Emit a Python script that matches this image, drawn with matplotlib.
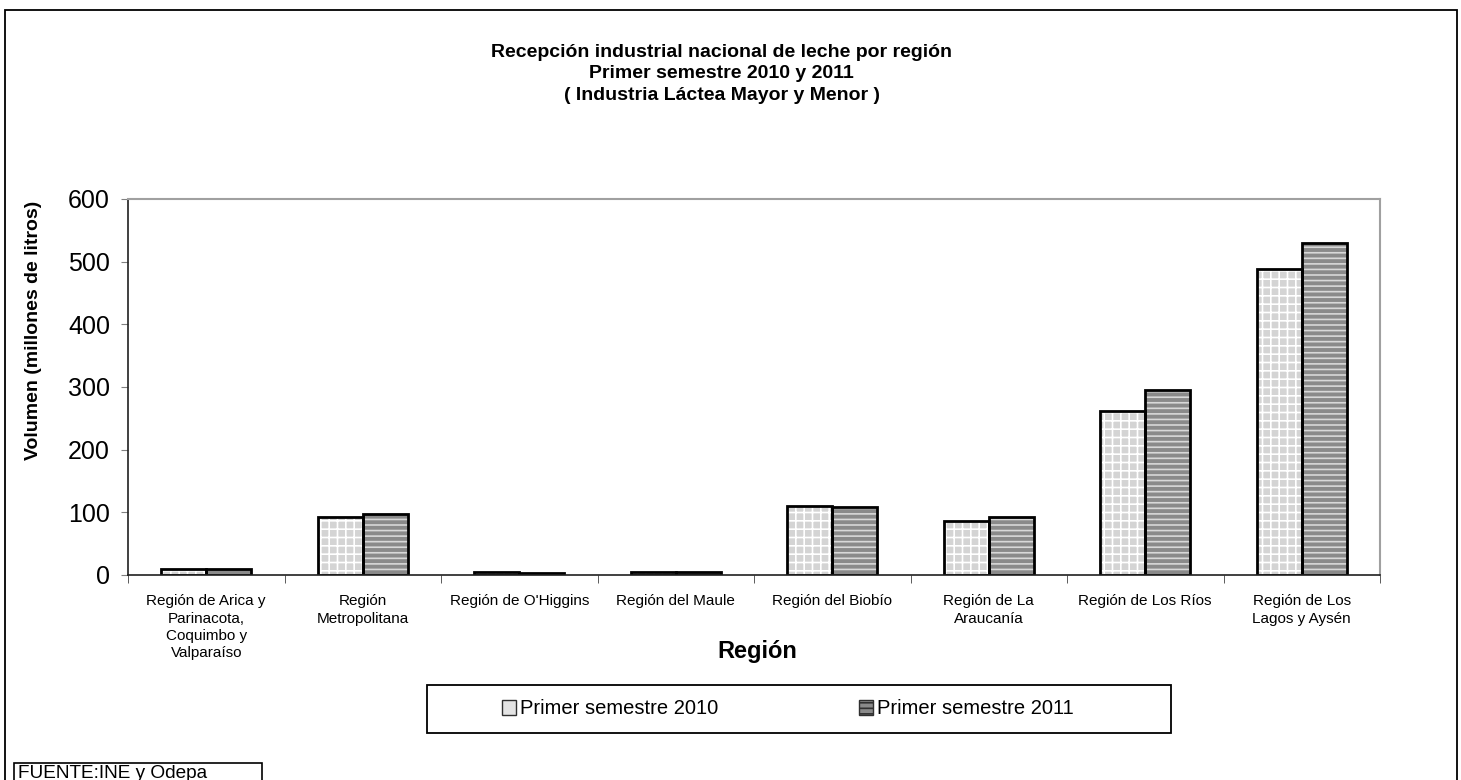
import numpy as np
import matplotlib
matplotlib.use("Agg")
import matplotlib.pyplot as plt
from matplotlib.patches import Rectangle, Patch

plt.rcParams['font.family'] = ['Liberation Sans', 'DejaVu Sans']

# datos (millones de litros)
regiones = ['Región de Arica y\nParinacota,\nCoquimbo y\nValparaíso',
            'Región\nMetropolitana',
            "Región de O'Higgins",
            'Región del Maule',
            'Región del Biobío',
            'Región de La\nAraucanía',
            'Región de Los Ríos',
            'Región de Los\nLagos y Aysén']
sem_2010 = [9, 92, 5, 4, 110, 86, 261, 488]
sem_2011 = [10, 98, 3, 5, 108, 92, 295, 530]
series = ['Primer semestre 2010', 'Primer semestre 2011']
yticks = [0, 100, 200, 300, 400, 500, 600]

W, H = 1461, 780
fig = plt.figure(figsize=(W / 100, H / 100), dpi=100)
ax = fig.add_axes([128 / W, 1 - 575 / H, 1252 / W, 376 / H])

x = np.arange(len(regiones))
w = 0.2875

plt.rcParams['hatch.linewidth'] = 1.2
# relleno con trama
ax.bar(x - w / 2, sem_2010, w, color='#d4d4d4', hatch='++', edgecolor='white', linewidth=0)
ax.bar(x + w / 2, sem_2011, w, color='#8a8a8a', hatch='---', edgecolor='#d8d8d8', linewidth=0)
# bordes negros
ax.bar(x - w / 2, sem_2010, w, fill=False, edgecolor='black', linewidth=2)
ax.bar(x + w / 2, sem_2011, w, fill=False, edgecolor='black', linewidth=2)

ax.set_xlim(-0.5, len(regiones) - 0.5)
ax.set_ylim(0, 600)
ax.set_yticks(yticks)
ax.tick_params(axis='y', labelsize=18, length=5, color='#808080', direction='out', pad=8)
ax.set_xticks(x)
ax.set_xticklabels(regiones, fontsize=11, va='top', linespacing=1.3)
ax.tick_params(axis='x', length=0, pad=14)
ax.set_xticks(np.arange(len(regiones) + 1) - 0.5, minor=True)
ax.tick_params(axis='x', which='minor', length=6, color='#404040', direction='out')

for s in ['top', 'right']:
    ax.spines[s].set_color('#a0a0a0')
    ax.spines[s].set_linewidth(1.5)
for s in ['left', 'bottom']:
    ax.spines[s].set_color('#202020')
    ax.spines[s].set_linewidth(1.2)

ax.set_ylabel('Volumen (millones de litros)', fontsize=14, fontweight='bold')
ax.yaxis.set_label_coords((42 - 128) / 1252, (575 - 330) / 376)
ax.set_xlabel('Región', fontsize=17, fontweight='bold')
ax.xaxis.set_label_coords((757 - 128) / 1252, (575 - 640) / 376)

fig.text(0.494, 1 - 74 / H, 'Recepción industrial nacional de leche por región\n'
         'Primer semestre 2010 y 2011\n( Industria Láctea Mayor y Menor )',
         ha='center', va='center', fontsize=14, fontweight='bold', linespacing=1.37)

# leyenda
fig.patches.append(Rectangle((427 / W, 1 - 733 / H), 744 / W, 48 / H, transform=fig.transFigure,
                             fill=False, edgecolor='black', linewidth=1.3))
handles = [Patch(facecolor='#e4e4e4', edgecolor='#303030', linewidth=1),
           Patch(facecolor='#8a8a8a', hatch='---', edgecolor='#303030', linewidth=1)]
fig.legend(handles, series, loc='center left', bbox_to_anchor=(502 / W, 1 - 709 / H),
           ncol=2, fontsize=14.5, frameon=False,
           handlelength=0.7, handleheight=0.7, handletextpad=0.2, columnspacing=7.0,
           borderpad=0, borderaxespad=0)

# borde exterior
fig.patches.append(Rectangle((5 / W, -0.05), 1452 / W, 1.05 - 10 / H,
                             transform=fig.transFigure, fill=False, edgecolor='black',
                             linewidth=1.3))
fig.patches.append(Rectangle((14 / W, -0.05), 248 / W, 0.05 + 17 / H,
                             transform=fig.transFigure, facecolor='white', edgecolor='black',
                             linewidth=1.2))
fig.text(18 / W, 1 - 774 / H, 'FUENTE:INE y Odepa', fontsize=13.7, va='center', ha='left')

fig.savefig('out.png', dpi=100)
